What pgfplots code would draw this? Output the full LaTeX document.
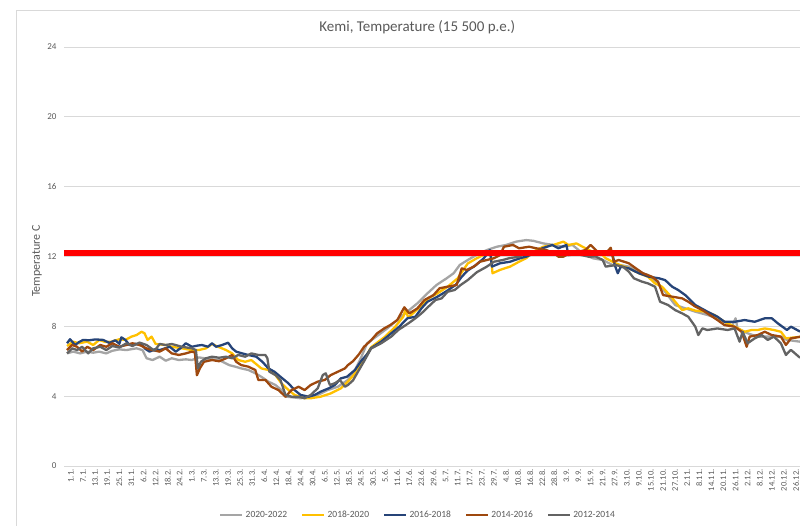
\documentclass[border=0pt]{standalone}
\usepackage{fontspec}
\setmainfont{Carlito}
\usepackage{pgfplots}
\pgfplotsset{compat=1.18}
\definecolor{lg}{RGB}{165,165,165}
\definecolor{yl}{RGB}{255,192,0}
\definecolor{bl}{RGB}{38,68,120}
\definecolor{br}{RGB}{158,72,14}
\definecolor{dg}{RGB}{99,99,99}
\definecolor{txt}{RGB}{89,89,89}
\definecolor{gridc}{RGB}{217,217,217}
\begin{document}
\begin{tikzpicture}
\path[use as bounding box] (0,0) rectangle (800pt,526pt);
\draw[gridc, line width=0.8pt] (16pt,-5pt) -- (16pt,516pt) -- (810pt,516pt);
\begin{axis}[
  at={(64pt,60pt)}, anchor=south west,
  scale only axis, width=736pt, height=419pt,
  xmin=-0.5, xmax=365, ymin=0, ymax=24,
  ytick={0,4,...,24},
  xtick={1,7,...,361},
  xticklabels={1.1.,7.1.,13.1.,19.1.,25.1.,31.1.,6.2.,12.2.,18.2.,24.2.,1.3.,7.3.,13.3.,19.3.,25.3.,31.3.,6.4.,12.4.,18.4.,24.4.,30.4.,6.5.,12.5.,18.5.,24.5.,30.5.,5.6.,11.6.,17.6.,23.6.,29.6.,5.7.,11.7.,17.7.,23.7.,29.7.,4.8.,10.8.,16.8.,22.8.,28.8.,3.9.,9.9.,15.9.,21.9.,27.9.,3.10.,9.10.,15.10.,21.10.,27.10.,2.11.,8.11.,14.11.,20.11.,26.11.,2.12.,8.12.,14.12.,20.12.,26.12.},
  /pgf/number format/assume math mode=true,
  axis line style={draw=none},
  tick style={draw=none},
  ymajorgrids, major grid style={gridc, line width=0.9pt},
  yticklabel style={font=\fontsize{9}{10}\selectfont, text=txt, xshift=-4pt},
  xticklabel style={font=\fontsize{8.5}{10}\selectfont, text=txt, rotate=90, anchor=east, yshift=-4pt},
  ylabel={Temperature C},
  ylabel style={font=\fontsize{12}{14}\selectfont, text=txt, at={(axis description cs:-0.0367,0.489)}, anchor=center},
  title={Kemi, Temperature (15 500 p.e.)},
  title style={font=\fontsize{15}{17}\selectfont, text=txt, at={(axis description cs:0.48,1)}, anchor=center, yshift=14pt},
  legend columns=5,
  legend style={at={(axis description cs:0.481,-0.117)}, anchor=center, draw=none, fill=none,
    font=\fontsize{9.5}{11}\selectfont, text=txt,
    /tikz/every even column/.append style={column sep=12pt}},
  legend image code/.code={\draw[#1, line width=2.5pt] (0pt,0pt) -- (22pt,0pt);},
  every axis plot/.append style={line width=2.3pt, line join=round},
]
% 2020-2022
\addplot[lg] coordinates {
(1,6.45) (4,6.55) (7.5,6.45) (11,6.55) (14,6.49) (17,6.55) (20.5,6.45) (23.5,6.6) (27,6.68) (30.5,6.64) (35.5,6.74) (38.5,6.64) (40.5,6.17) (43.5,6.07) (47,6.26) (50,6.03) (53,6.17) (56.5,6.07) (60,6.11) (63,6.07) (66.5,6.22)
(71.5,6.13) (76.5,6.07) (81.5,5.78) (84.5,5.69) (87.5,5.59) (91,5.5) (94.5,5.31) (97.5,5.11) (101,4.83) (104.5,4.64) (107.5,4.35) (110,3.97) (114,3.92) (117,3.88) (122,3.97) (125.5,4.07) (130.5,4.35) (135.5,4.54) (140.5,4.93)
(144,5.5) (147,6.2) (150,7.03) (155,7.45) (160,7.88) (165,8.36) (170,8.84) (175,9.32) (180,9.89) (184.5,10.37) (189.5,10.75) (193,11.04) (196,11.51)
(200,11.8) (204.5,12.1) (209.5,12.37) (214.5,12.56) (219,12.66) (224,12.85) (229,12.94) (232.5,12.9) (237.5,12.75) (242.5,12.66) (247.5,12.56) (252,12.66) (257,12.18) (262,11.9) (267,11.8) (272,11.51)
(276,11.5) (280,11.42) (284.5,11.13) (289.5,10.94) (294.5,10.46) (298,9.98) (303,9.22) (308,9.03) (313,8.84) (319,8.65) (324,8.46) (329,8.17) (331.5,8.07) (333,8.46) (334,7.88) (339,7.6) (344,7.41) (349,7.41) (355.5,7.41) (358.5,7.22) (365,7.12)
};
\addlegendentry{2020-2022}
% 2018-2020
\addplot[yl] coordinates {
(1,6.87) (4,7.12) (7,7.03) (11,7.12) (14,6.93) (17,7.22) (20,7.1) (23,7.12) (27,7.26) (30,7.22) (33,7.41) (35.5,7.5) (38,7.69) (39.5,7.6) (41,7.22) (43,7.41) (45,6.99) (50,6.93) (53,6.83) (58,6.74) (63,6.64)
(66.5,6.64) (70,6.74) (73,6.99) (76,6.83) (80,6.64) (83,6.45) (86,6.07) (89.5,5.97) (92.5,6.07) (97.5,5.59) (101,5.5) (104.5,5.21) (107.5,4.73) (111,4.35) (114,4.07) (119,3.88) (122,3.88) (127,3.97) (132,4.16) (137,4.45) (140.5,4.83)
(144,5.3) (147,5.9) (150,6.4) (152,6.8) (159,7.41) (164,7.98) (168,8.55) (169,8.93) (170.5,8.5) (175.5,9.03) (180.5,9.6) (185,9.89) (190,10.27) (195,10.75)
(200,11.6) (204.5,11.9) (209.5,12.18) (211.3,12.3) (212.3,11.04) (216,11.23) (221,11.42) (225.5,11.7) (229,11.9) (232.5,12.27) (237.5,12.56) (242.5,12.66) (247.5,12.85) (250,12.66) (254,12.75) (257,12.56) (262,12.27) (267,12.08)
(268.5,11.9) (273.5,11.61) (280,11.32) (285,11.04) (289.5,10.84) (293,10.46) (296.5,10.27) (299.5,9.89) (303,9.41) (306.5,8.93) (309.5,9.03) (313,8.9) (318,8.84) (322.5,8.65) (327.5,8.26) (332.5,7.98) (337.5,7.69) (341,7.79) (344,7.79) (347.5,7.88) (352,7.79) (355.5,7.69) (358,7.31) (365,7.4)
};
\addlegendentry{2018-2020}
% 2016-2018
\addplot[bl] coordinates {
(1,7.03) (2.5,7.26) (5,6.93) (7,7.1) (9,7.22) (12,7.2) (15,7.25) (19,7.22) (22,7.05) (25,7.2) (27,7.0) (28,7.37) (30,7.22) (32,6.93) (35,7.0) (38,6.95) (40,6.7) (42,6.55) (45,6.7) (47,6.64) (50,6.75) (52,6.83) (55,6.55) (58,6.8) (60,7.03) (63,6.83) (66,6.9) (68,6.93) (71,6.83)
(73,7.03) (75,6.83) (78,6.93) (81,7.06) (83,6.74) (85,6.55) (88,6.45) (91,6.36) (95,6.26) (98,5.97) (101,5.59) (104,5.4) (107,5.11) (111,4.73) (114,4.35) (117,4.07) (121,3.97) (124,4.07) (127,4.26) (131,4.45) (134,4.64) (137,5.02) (140,5.11)
(144,5.5) (147,6.0) (150,6.4) (152,6.75) (157,7.12) (162,7.6) (166,7.98) (170,8.46) (174,8.55) (177,9.03) (180,9.41) (185,9.7) (189,9.98) (194,10.37) (197,10.84)
(200,11.2) (204,11.5) (208,11.9) (211,12.37) (212,11.42) (216,11.61) (221,11.7) (226,11.9) (229,11.99) (233,12.18) (237,12.47) (242,12.66) (245,12.47) (249,12.66) (250,12.08) (254,12.3) (257,12.27) (261,12.15) (264,12.18) (268,12.1)
(272,12.08) (273,11.51) (274.5,11.04) (276,11.42) (280,11.32) (285,11.04) (290,10.84) (295,10.75) (298,10.65) (301.5,10.27) (304.5,10.08) (308,9.79) (313,9.22) (316,9.03) (319,8.84) (324,8.55) (327.5,8.26) (332.5,8.26) (337.5,8.36) (342.5,8.26) (347.5,8.46) (351,8.46) (354,8.17) (358.5,7.79) (360.5,7.98) (365,7.7)
};
\addlegendentry{2016-2018}
% 2014-2016
\addplot[br] coordinates {
(1,6.64) (3.5,6.93) (6,6.83) (8.5,6.55) (11,6.83) (14,6.64) (17.5,6.93) (20.5,6.83) (23.5,7.03) (27,6.83) (30.5,6.93) (33.5,7.03) (37,6.93) (40.5,6.74) (43.5,6.64) (47,6.55) (50,6.74) (53,6.45) (56.5,6.36) (60,6.45) (63,6.55) (64.5,6.5) (65.5,5.2) (67,5.6)
(69,5.97) (73,6.07) (76.5,6.0) (80,6.17) (83,6.36) (85,5.97) (87.5,5.78) (91,5.69) (94.5,5.5) (96,4.93) (99.5,4.93) (102.5,4.54) (106,4.35) (109.5,3.97) (112.5,4.35) (116,4.54) (119,4.35) (122,4.64) (125.5,4.83) (129,4.93) (132,5.21) (135.5,5.4) (139,5.59) (140.5,5.78)
(143,6.0) (146,6.4) (148.5,6.83) (152,7.2) (155,7.6) (158.5,7.88) (161.5,8.07) (165,8.36) (168.5,9.09) (171,8.74) (175,9.03) (178.5,9.51) (183,9.79) (186,10.18) (190,10.27) (194.5,10.37) (197,11.32)
(199.5,11.23) (203,11.42) (206,11.7) (209.5,11.8) (213,11.9) (216,12.08) (218,12.56) (222.5,12.66) (225.5,12.47) (230.5,12.56) (234,12.47) (239,12.37) (243,12.18) (245,11.99) (247.5,11.99) (250.5,12.18) (255,12.27) (258.5,12.37) (261,12.66) (264.5,12.27) (268.5,12.18)
(271,12.5) (272.5,11.7) (275,11.8) (280,11.61) (283.5,11.32) (287,11.04) (291.5,10.84) (294.5,10.56) (297,9.79) (301.5,9.7) (306.5,9.6) (309.5,9.41) (313,9.13) (316.5,8.93) (319,8.74) (324,8.36) (327.5,8.07) (332.5,7.98) (336,7.69) (338.5,6.83) (340,7.41) (344,7.5) (347.5,7.69) (351,7.5) (355.5,7.41) (358,6.93) (360.5,7.31) (365,7.4)
};
\addlegendentry{2014-2016}
% 2012-2014
\addplot[dg] coordinates {
(1,6.45) (3.5,6.74) (6,6.64) (8.5,6.83) (11.5,6.45) (14,6.74) (17.5,6.83) (20.5,6.64) (23.5,6.87) (27,6.79) (30.5,7.03) (33.5,6.87) (37,7.07) (40.5,6.93) (44.5,6.6) (47,6.99) (50,6.93) (53,6.99) (58,6.83) (63,6.74) (65,6.64) (66,5.59) (67.5,5.97)
(70,6.17) (73,6.26) (76.5,6.2) (80,6.26) (83,6.17) (86,6.36) (89.5,6.26) (92.5,6.45) (96,6.36) (99.5,6.36) (100.5,6.17) (101.5,5.4) (104.5,5.21) (107,4.93) (109.5,4.07) (112.5,3.97) (116,3.97) (119,3.88) (122,4.07) (125.5,4.45) (128,5.21) (129.5,5.31) (131.5,4.64) (134,4.74) (136.5,4.93) (139,4.54) (140.5,4.64)
(143,4.9) (146,5.5) (149,6.1) (152,6.73) (157,7.03) (162,7.41) (165.5,7.79) (170.5,8.17) (174,8.46) (177,8.74) (180.5,9.13) (184,9.51) (187,9.6) (190,9.98) (193.5,10.08) (196.5,10.37) (200,10.65)
(204.5,11.1) (209.5,11.42) (213,11.7) (217.5,11.8) (220.5,11.9) (225.5,11.99) (229,12.18) (235.5,12.27) (242.5,12.27) (249,12.08) (255,12.12) (260,11.99) (263.5,12.0)
(267,11.8) (268.5,11.42) (273.5,11.51) (277,11.42) (280,11.13) (282.5,10.75) (286.5,10.56) (289.5,10.46) (293,10.27) (295.5,9.41) (299.5,9.22) (303,8.93) (306.5,8.74) (309.5,8.55) (313,7.98) (314.5,7.5) (316.5,7.88) (319,7.79) (324,7.88) (329,7.79) (332.5,7.88) (335,7.12) (336.5,7.69) (339,7.03) (342.5,7.31) (346,7.5) (349,7.22) (352,7.41) (355.5,7.03) (358,6.36) (360.5,6.65) (365,6.2)
};
\addlegendentry{2012-2014}
% threshold
\addplot[red, line width=6pt, forget plot] coordinates {(-0.5,12.2) (365,12.2)};
\end{axis}
\end{tikzpicture}
\end{document}
